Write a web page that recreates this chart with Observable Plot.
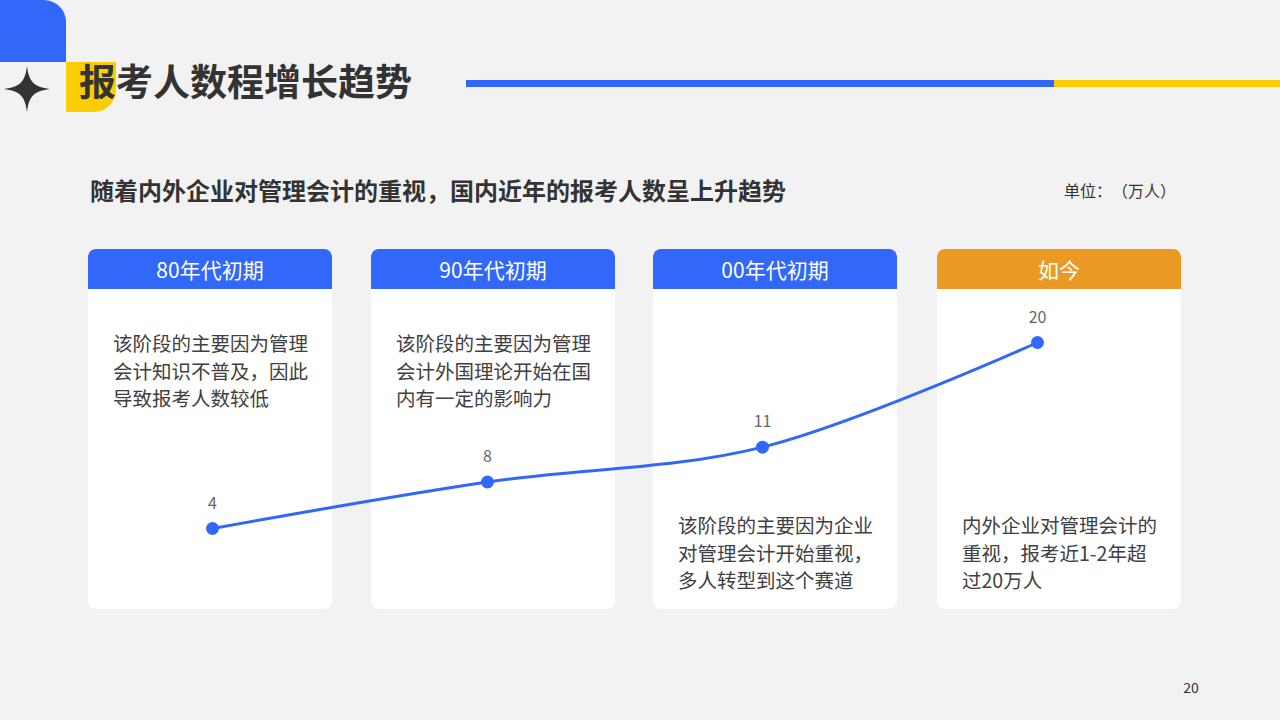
<!DOCTYPE html>
<html>
<head>
<meta charset="utf-8">
<script src="https://cdn.jsdelivr.net/npm/d3@7"></script>
<script src="https://cdn.jsdelivr.net/npm/@observablehq/plot@0.6"></script>
<style>
  html, body { margin: 0; padding: 0; }
  body {
    width: 1280px; height: 720px; background: #f2f2f2; position: relative; overflow: hidden;
    font-family: "Noto Sans CJK SC", "Noto Sans", sans-serif; color: #333;
    text-spacing-trim: space-all;
  }
  .abs { position: absolute; }
  #cornerBlue { left: 0; top: 0; width: 66px; height: 62px; background: #3168f9; border-top-right-radius: 22px; }
  #cornerYellow { left: 66px; top: 62px; width: 50px; height: 50px; background: #fbcd05; border-bottom-right-radius: 22px; }
  #star { left: 0; top: 62px; }
  #title { left: 79px; top: 62px; font-size: 37px; line-height: 37px; font-weight: 700; color: #333; white-space: nowrap; }
  #barBlue { left: 466px; top: 80px; width: 588px; height: 7px; background: #3168f9; }
  #barYellow { left: 1054px; top: 80px; width: 226px; height: 7px; background: #fbcd05; }
  #subtitle { left: 90px; top: 177px; font-size: 24px; line-height: 26px; font-weight: 700; color: #333; white-space: nowrap; }
  #unit { left: 1064px; top: 180px; font-size: 16px; line-height: 20px; color: #333; white-space: nowrap; }
  .card { top: 249px; width: 244px; height: 360px; background: #fff; border-radius: 8px; overflow: hidden; }
  .card .head { height: 40px; display: flex; align-items: center; justify-content: center; color: #fff; font-size: 21px; }
  .card .body { position: absolute; left: 25px; width: 200px; font-size: 19.5px; line-height: 27.5px; color: #404040; }
  #chart { left: 73px; top: 300px; width: 1102px; height: 300px; }
  #pageNo { left: 1178px; top: 678px; width: 26px; text-align: center; font-size: 14px; line-height: 18px; color: #333; }
</style>
</head>
<body>
<div id="cornerBlue" class="abs"></div>
<div id="cornerYellow" class="abs"></div>
<svg id="star" class="abs" width="56" height="56" viewBox="0 0 56 56">
  <path transform="translate(27,27)" d="M0,-23 C2,-7 7,-2 23,0 C7,2 2,7 0,23 C-2,7 -7,2 -23,0 C-7,-2 -2,-7 0,-23 Z" fill="#333"/>
</svg>
<div id="title" class="abs">报考人数程增长趋势</div>
<div id="barBlue" class="abs"></div>
<div id="barYellow" class="abs"></div>
<div id="subtitle" class="abs">随着内外企业对管理会计的重视，国内近年的报考人数呈上升趋势</div>
<div id="unit" class="abs">单位：（万人）</div>
<div id="cards"></div>
<div id="chart" class="abs"></div>
<div id="pageNo" class="abs">20</div>

<script>
// ---- data ----
const periods = ["80年代初期", "90年代初期", "00年代初期", "如今"];
const counts = [4, 8, 11, 20];
const notes = [
  "该阶段的主要因为管理会计知识不普及，因此导致报考人数较低",
  "该阶段的主要因为管理会计外国理论开始在国内有一定的影响力",
  "该阶段的主要因为企业对管理会计开始重视，多人转型到这个赛道",
  "内外企业对管理会计的重视，报考近1-2年超过20万人"
];
const notePlacement = ["top", "top", "bottom", "bottom"];
const headerColors = ["#3168f9", "#3168f9", "#3168f9", "#ea9a24"];

// ---- cards (layout) ----
const cardsEl = document.getElementById("cards");
const cardLefts = [88, 371, 653, 937];
periods.forEach((p, i) => {
  const card = document.createElement("div");
  card.className = "card abs";
  card.style.left = cardLefts[i] + "px";
  const head = document.createElement("div");
  head.className = "head";
  head.style.background = headerColors[i];
  head.textContent = p;
  card.appendChild(head);
  const body = document.createElement("div");
  body.className = "body";
  body.style.top = (notePlacement[i] === "top" ? 80 : 262) + "px";
  body.textContent = notes[i];
  card.appendChild(body);
  cardsEl.appendChild(card);
});

// ---- line chart ----
const data = periods.map((p, i) => ({period: p, count: counts[i]}));
const chart = Plot.plot({
  width: 1102,
  height: 300,
  margin: 0,
  style: {background: "transparent", overflow: "visible", fontFamily: "'Noto Sans CJK SC', sans-serif"},
  x: {type: "point", domain: periods, padding: 0.5, axis: null},
  y: {domain: [0, 20], range: [274.5, 42], axis: null},
  marks: [
    Plot.line(data, {x: "period", y: "count", curve: "catmull-rom", stroke: "#3168f9", strokeWidth: 3}),
    Plot.dot(data, {x: "period", y: "count", r: 6.5, fill: "#3168f9", stroke: "none"}),
    Plot.text(data, {x: "period", y: "count", text: d => String(d.count), dy: -25, fontSize: 16, fill: "#666"})
  ]
});
document.getElementById("chart").appendChild(chart);
</script>
</body>
</html>
